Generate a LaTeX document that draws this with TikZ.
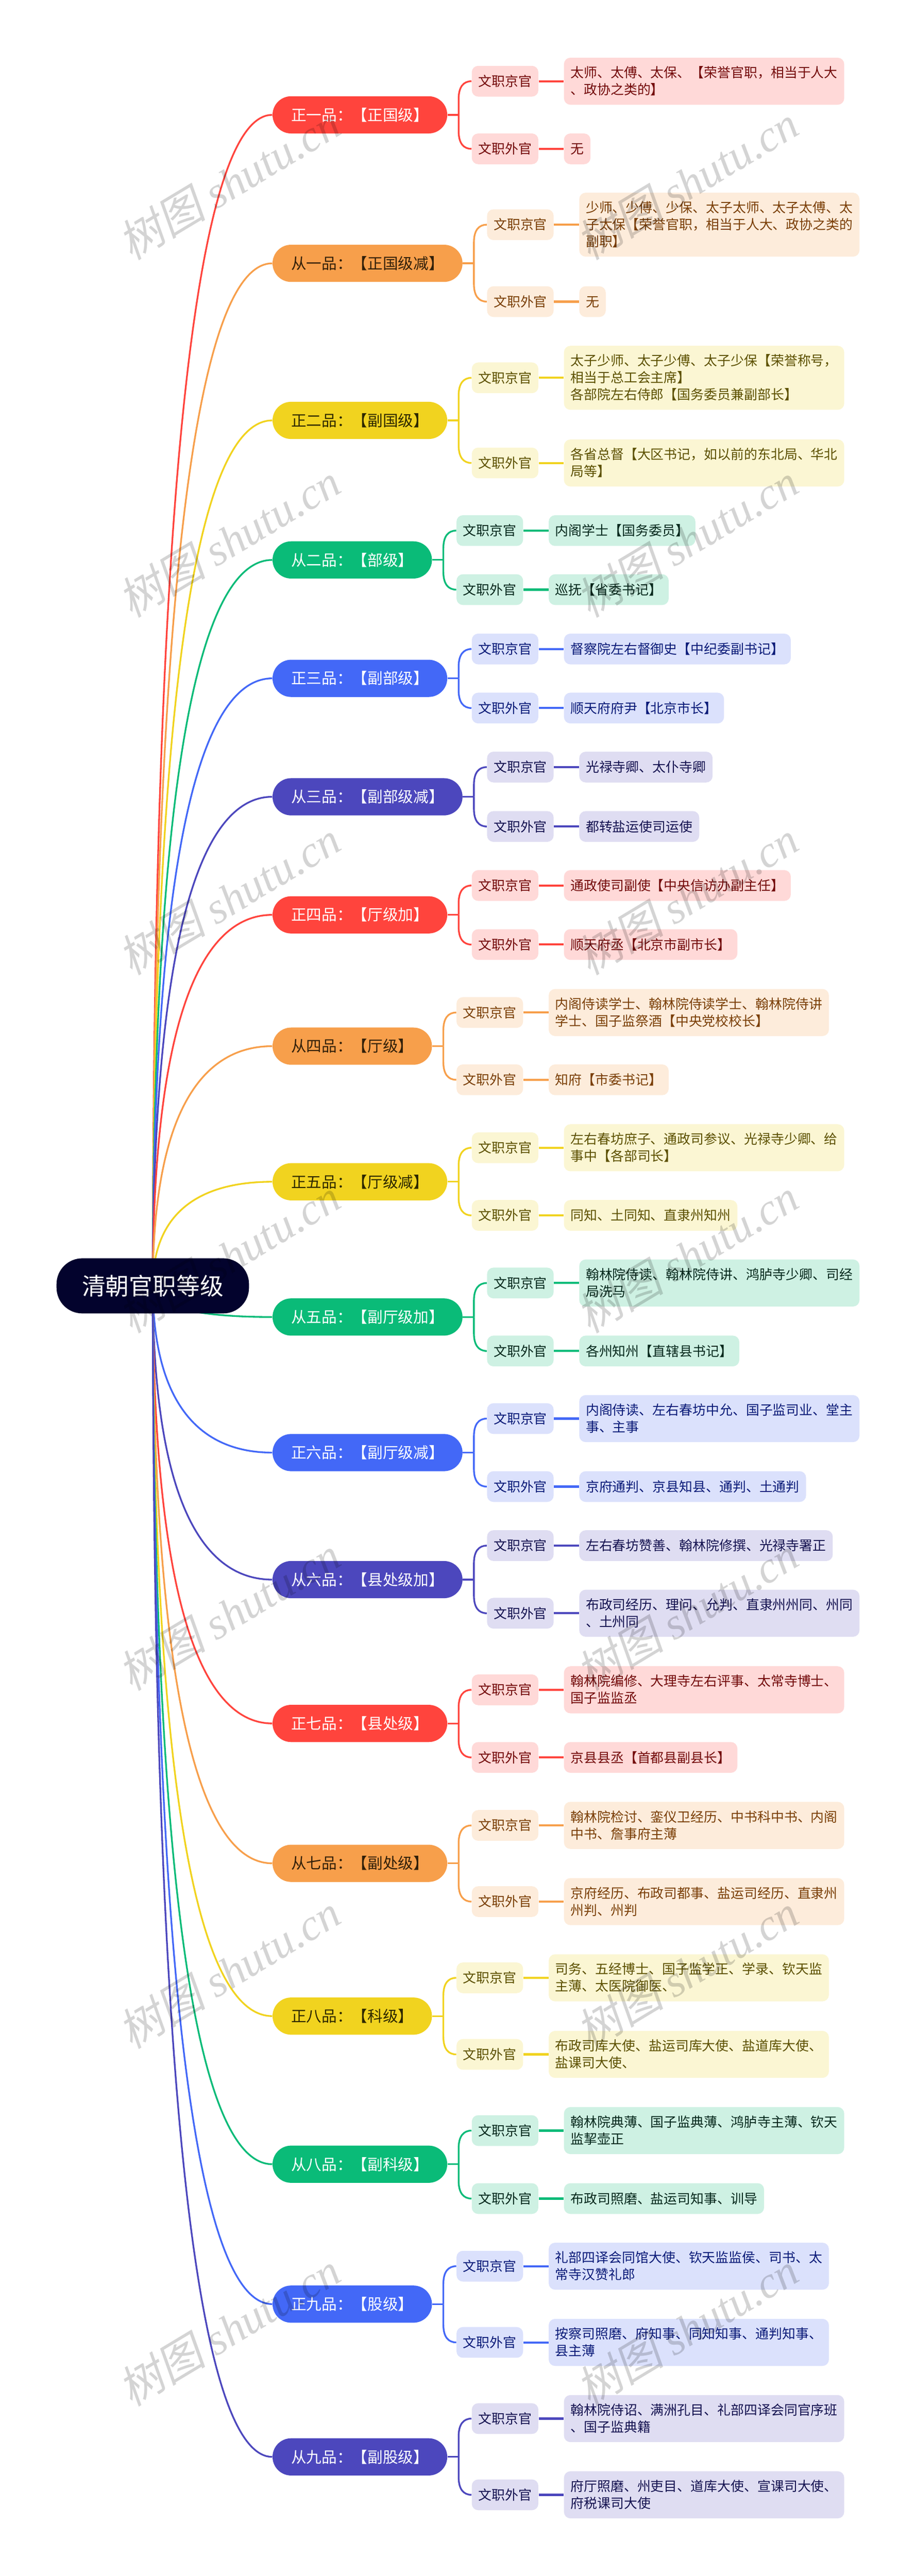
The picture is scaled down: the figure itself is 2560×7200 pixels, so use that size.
\documentclass[tikz,border=0pt]{standalone}
\usepackage{fontspec}
\setmainfont{Noto Sans CJK SC}
\newfontfamily\wmcjk[FakeSlant=0.2]{Noto Sans CJK SC}
\newfontfamily\wmlat{Liberation Serif}
\usetikzlibrary{calc,backgrounds}
\definecolor{Rline}{RGB}{255, 68, 61}
\definecolor{Rfill}{RGB}{255, 217, 216}
\definecolor{Rtext}{RGB}{115, 10, 10}
\definecolor{Rhead}{RGB}{255, 255, 255}
\definecolor{Oline}{RGB}{247, 159, 75}
\definecolor{Ofill}{RGB}{253, 236, 219}
\definecolor{Otext}{RGB}{122, 62, 6}
\definecolor{Ohead}{RGB}{50, 32, 10}
\definecolor{Yline}{RGB}{241, 211, 31}
\definecolor{Yfill}{RGB}{251, 246, 211}
\definecolor{Ytext}{RGB}{92, 80, 0}
\definecolor{Yhead}{RGB}{45, 40, 0}
\definecolor{Gline}{RGB}{10, 187, 120}
\definecolor{Gfill}{RGB}{206, 241, 227}
\definecolor{Gtext}{RGB}{6, 40, 28}
\definecolor{Ghead}{RGB}{255, 255, 255}
\definecolor{Bline}{RGB}{67, 104, 247}
\definecolor{Bfill}{RGB}{219, 225, 252}
\definecolor{Btext}{RGB}{10, 26, 120}
\definecolor{Bhead}{RGB}{255, 255, 255}
\definecolor{Iline}{RGB}{76, 71, 189}
\definecolor{Ifill}{RGB}{223, 221, 242}
\definecolor{Itext}{RGB}{20, 18, 80}
\definecolor{Ihead}{RGB}{255, 255, 255}
\definecolor{Root}{RGB}{3, 3, 45}
\tikzset{
  gradebox/.style={fill=#1line, text=#1head, rounded corners=13pt, inner xsep=13pt, inner ysep=0pt,
    minimum height=26pt, font=\fontsize{10.675}{12}\selectfont},
  postbox/.style={fill=#1fill, text=#1text, rounded corners=4.5pt, inner xsep=4.6pt, inner ysep=6pt,
    minimum height=21.5pt, align=left, font=\fontsize{9.33}{11.875}\selectfont,
    execute at begin node=\rule{0pt}{8.2pt}, execute at end node=\rule[-1.1pt]{0pt}{1.1pt}},
  mainline/.style={#1line, line width=1.2pt},
  forkline/.style={#1line, line width=1.2pt},
  leafline/.style={#1line, line width=1.5pt},
  wmark/.style={text=black, text opacity=0.17, rotate=31, font=\fontsize{31}{31}\selectfont}
}
\newcommand{\wmtext}{{\wmcjk 树图} {\wmlat\itshape shutu.cn}}
\newcommand{\grade}[8]{%
  \node[gradebox=#2, anchor=west] (#1) at (761,#4) {#3};
  \node[postbox=#2, anchor=west] (#1a) at ($(#1.east |- 0,#5)+(67,0)$) {文职京官};
  \node[postbox=#2, anchor=west] (#1at) at ($(#1a.east)+(70,0)$) {#6};
  \node[postbox=#2, anchor=west] (#1b) at ($(#1.east |- 0,#7)+(67,0)$) {文职外官};
  \node[postbox=#2, anchor=west] (#1bt) at ($(#1b.east)+(70,0)$) {#8};
  \begin{scope}[on background layer]
    \draw[mainline=#2] (root.center) .. controls (428,{3594+0.79*(#4-3594)}) and (590,#4) .. (#1.west);
  \end{scope}
  \draw[forkline=#2] (#1.east) -- ++(31,0) coordinate (#1j);
  \draw[forkline=#2] (#1a.west) .. controls +(-22,0) and +(0,-35) .. +(-36,50) -- (#1j);
  \draw[forkline=#2] (#1b.west) .. controls +(-22,0) and +(0,35) .. +(-36,-50) -- (#1j);
  \draw[leafline=#2] (#1a) -- (#1at);
  \draw[leafline=#2] (#1b) -- (#1bt);
}
\begin{document}
\begin{tikzpicture}[x=0.25pt,y=-0.25pt]
  \useasboundingbox (0,0) rectangle (2560,7200);

  %Nodo central
  \node[fill=Root, text=white, rounded corners=18pt, minimum width=134.5pt, minimum height=38.5pt,
    inner sep=0pt, font=\fontsize{16.5}{18}\selectfont] (root) at (427,3594) {清朝官职等级};

  %Grados por encima del nodo central
  \grade{g1}{R}{正一品：【正国级】}{321}{227}{太师、太傅、太保、【荣誉官职，相当于人大\\、政协之类的】}{416}{无}
  \grade{g2}{O}{从一品：【正国级减】}{736}{628}{少师、少傅、少保、太子太师、太子太傅、太\\子太保【荣誉官职，相当于人大、政协之类的\\副职】}{843}{无}
  \grade{g3}{Y}{正二品：【副国级】}{1175}{1056}{太子少师、太子少傅、太子少保【荣誉称号，\\相当于总工会主席】\\各部院左右侍郎【国务委员兼副部长】}{1294}{各省总督【大区书记，如以前的东北局、华北\\局等】}
  \grade{g4}{G}{从二品：【部级】}{1565}{1483}{内阁学士【国务委员】}{1648}{巡抚【省委书记】}
  \grade{g5}{B}{正三品：【副部级】}{1896}{1814}{督察院左右督御史【中纪委副书记】}{1979}{顺天府府尹【北京市长】}
  \grade{g6}{I}{从三品：【副部级减】}{2227}{2144}{光禄寺卿、太仆寺卿}{2310}{都转盐运使司运使}
  \grade{g7}{R}{正四品：【厅级加】}{2557}{2475}{通政使司副使【中央信访办副主任】}{2640}{顺天府丞【北京市副市长】}
  \grade{g8}{O}{从四品：【厅级】}{2924}{2830}{内阁侍读学士、翰林院侍读学士、翰林院侍讲\\学士、国子监祭酒【中央党校校长】}{3018}{知府【市委书记】}
  \grade{g9}{Y}{正五品：【厅级减】}{3303}{3208}{左右春坊庶子、通政司参议、光禄寺少卿、给\\事中【各部司长】}{3397}{同知、土同知、直隶州知州}

  %Grados por debajo del nodo central
  \grade{g10}{G}{从五品：【副厅级加】}{3681}{3586}{翰林院侍读、翰林院侍讲、鸿胪寺少卿、司经\\局洗马}{3776}{各州知州【直辖县书记】}
  \grade{g11}{B}{正六品：【副厅级减】}{4060}{3965}{内阁侍读、左右春坊中允、国子监司业、堂主\\事、主事}{4155}{京府通判、京县知县、通判、土通判}
  \grade{g12}{I}{从六品：【县处级加】}{4415}{4320}{左右春坊赞善、翰林院修撰、光禄寺署正}{4509}{布政司经历、理问、允判、直隶州州同、州同\\、土州同}
  \grade{g13}{R}{正七品：【县处级】}{4817}{4723}{翰林院编修、大理寺左右评事、太常寺博士、\\国子监监丞}{4912}{京县县丞【首都县副县长】}
  \grade{g14}{O}{从七品：【副处级】}{5208}{5102}{翰林院检讨、銮仪卫经历、中书科中书、内阁\\中书、詹事府主薄}{5315}{京府经历、布政司都事、盐运司经历、直隶州\\州判、州判}
  \grade{g15}{Y}{正八品：【科级】}{5635}{5528}{司务、五经博士、国子监学正、学录、钦天监\\主薄、太医院御医、}{5742}{布政司库大使、盐运司库大使、盐道库大使、\\盐课司大使、}
  \grade{g16}{G}{从八品：【副科级】}{6049}{5955}{翰林院典薄、国子监典薄、鸿胪寺主薄、钦天\\监挈壶正}{6145}{布政司照磨、盐运司知事、训导}
  \grade{g17}{B}{正九品：【股级】}{6440}{6334}{礼部四译会同馆大使、钦天监监侯、司书、太\\常寺汉赞礼郎}{6547}{按察司照磨、府知事、同知知事、通判知事、\\县主薄}
  \grade{g18}{I}{从九品：【副股级】}{6867}{6760}{翰林院侍诏、满洲孔目、礼部四译会同官序班\\、国子监典籍}{6973}{府厅照磨、州吏目、道库大使、宣课司大使、\\府税课司大使}

  %Marca de agua
  \node[wmark] (wm1) at (640,510) {\wmtext};
  \node[wmark] (wm2) at (1920,510) {\wmtext};
  \node[wmark] (wm3) at (640,1510) {\wmtext};
  \node[wmark] (wm4) at (1920,1510) {\wmtext};
  \node[wmark] (wm5) at (640,2510) {\wmtext};
  \node[wmark] (wm6) at (1920,2510) {\wmtext};
  \node[wmark] (wm7) at (640,3510) {\wmtext};
  \node[wmark] (wm8) at (1920,3510) {\wmtext};
  \node[wmark] (wm9) at (640,4510) {\wmtext};
  \node[wmark] (wm10) at (1920,4510) {\wmtext};
  \node[wmark] (wm11) at (640,5510) {\wmtext};
  \node[wmark] (wm12) at (1920,5510) {\wmtext};
  \node[wmark] (wm13) at (640,6510) {\wmtext};
  \node[wmark] (wm14) at (1920,6510) {\wmtext};
\end{tikzpicture}
\end{document}
